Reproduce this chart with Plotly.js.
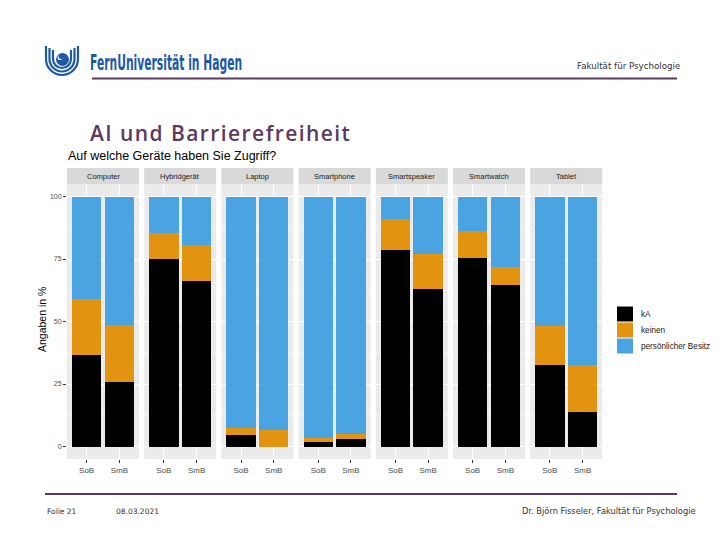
<!DOCTYPE html>
<html>
<head>
<meta charset="utf-8">
<script src="https://cdn.plot.ly/plotly-3.0.1.min.js"></script>
<style>html,body{margin:0;padding:0;background:#fff;}#chart{width:720px;height:540px;}</style>
</head>
<body>
<div id="chart"></div>
<script>
// ---- data ----
const devices = ["Computer", "Hybridgerät", "Laptop", "Smartphone", "Smartspeaker", "Smartwatch", "Tablet"];
const groups = ["SoB", "SmB"];
const seriesNames = ["kA", "keinen", "persönlicher Besitz"];
const seriesColors = ["#000000", "#E2930F", "#4BA4E2"];
// values in percent per device: [SoB, SmB]
const kA      = [[36.5, 26.0], [75.0, 66.4], [4.5, 0.0], [2.0, 3.2], [78.5, 63.0], [75.6, 64.8], [32.5, 13.7]];
const keinen  = [[22.5, 22.5], [10.3, 14.1], [3.1, 6.5], [1.5, 1.9], [12.5, 14.0], [10.5, 7.1], [15.8, 19.1]];
const besitz  = [[41.0, 51.5], [14.7, 19.5], [92.4, 93.5], [96.5, 94.9], [9.0, 23.0], [13.9, 28.1], [51.7, 67.2]];
const yTicks = [0, 25, 50, 75, 100];
const yTickText = ["0", "25", "50", "75", "100"];
const chartTitle = "Auf welche Geräte haben Sie Zugriff?";
const yTitle = "Angaben in %";
const slideTitle = "AI und Barrierefreiheit";
const logoText = "FernUniversität in Hagen";

// ---- helpers ----
const W = 720, H = 540;
const X = p => p / W;
const Y = p => 1 - p / H;

const panelLeft = 67, panelPitch = 77.2, panelW = 72;
const panelTop = 184, panelBottom = 459, stripTop = 168;

const seriesData = [kA, keinen, besitz];
const traces = [];
const layout = {
  width: W, height: H,
  margin: {l: 0, r: 0, t: 0, b: 0},
  paper_bgcolor: "#ffffff",
  plot_bgcolor: "#EBEBEB",
  showlegend: false,
  barmode: "stack",
  font: {family: "Liberation Sans, Arial, sans-serif", color: "#333"},
  shapes: [],
  annotations: []
};

layout.yaxis = {
  domain: [Y(panelBottom), Y(panelTop)],
  range: [-5, 105],
  tickvals: yTicks, ticktext: yTickText,
  ticks: "outside", ticklen: 3, tickcolor: "#333", tickwidth: 1,
  tickfont: {size: 7, color: "#4d4d4d"},
  showgrid: true, gridcolor: "#ffffff", gridwidth: 1,
  minor: {tickvals: [12.5, 37.5, 62.5, 87.5], showgrid: true, gridcolor: "#ffffff", gridwidth: 0.5, ticks: ""},
  zeroline: false, showline: false, anchor: "x", fixedrange: true
};

devices.forEach((d, i) => {
  const ax = i === 0 ? "x" : "x" + (i + 1);
  const axKey = i === 0 ? "xaxis" : "xaxis" + (i + 1);
  const left = panelLeft + i * panelPitch;
  layout[axKey] = {
    domain: [X(left), X(left + panelW)],
    type: "category",
    categoryorder: "array", categoryarray: groups,
    range: [-0.6, 1.6],
    ticks: "outside", ticklen: 3, tickcolor: "#333", tickwidth: 1,
    tickfont: {size: 8, color: "#4d4d4d"},
    showgrid: true, gridcolor: "#ffffff", gridwidth: 1,
    zeroline: false, showline: false, anchor: "y", fixedrange: true
  };
  seriesData.forEach((s, k) => {
    traces.push({
      type: "bar",
      x: groups,
      y: s[i],
      xaxis: ax, yaxis: "y",
      width: 0.9,
      name: seriesNames[k],
      marker: {color: seriesColors[k], line: {width: 0}},
      hoverinfo: "skip"
    });
  });
  // strip
  layout.shapes.push({type: "rect", xref: "paper", yref: "paper",
    x0: X(left), x1: X(left + panelW), y0: Y(panelTop), y1: Y(stripTop),
    fillcolor: "#D9D9D9", line: {width: 0}, layer: "below"});
  layout.annotations.push({xref: "paper", yref: "paper", x: X(left + panelW / 2), y: Y((panelTop + stripTop) / 2),
    text: d, showarrow: false, xanchor: "center", yanchor: "middle",
    font: {size: 7.5, color: "#1a1a1a"}});
});

// manual legend
seriesNames.forEach((n, k) => {
  const top = 306 + k * 16;
  layout.shapes.push({type: "rect", xref: "paper", yref: "paper",
    x0: X(617), x1: X(633), y0: Y(top + 15.5), y1: Y(top + 0.5),
    fillcolor: seriesColors[k], line: {width: 0}});
  layout.annotations.push({xref: "paper", yref: "paper", x: X(639), y: Y(top + 8),
    text: n, showarrow: false, xanchor: "left", yanchor: "middle",
    font: {size: 8.2, color: "#1a1a1a"}});
});

// chart title + y title
layout.annotations.push({xref: "paper", yref: "paper", x: X(66), y: Y(156),
  text: chartTitle, showarrow: false, xanchor: "left", yanchor: "middle",
  font: {size: 12.5, color: "#000000", family: "Liberation Sans, Arial, sans-serif"}});
layout.annotations.push({xref: "paper", yref: "paper", x: X(42), y: Y(320),
  text: yTitle, showarrow: false, textangle: -90, xanchor: "center", yanchor: "middle",
  font: {size: 10.5, color: "#000000"}});

// ---- slide decoration ----
const purple = "#5B3A5E";
layout.shapes.push({type: "line", xref: "paper", yref: "paper", x0: X(92), x1: X(677), y0: Y(78.5), y1: Y(78.5), line: {color: purple, width: 2}});
layout.shapes.push({type: "line", xref: "paper", yref: "paper", x0: X(45), x1: X(677), y0: Y(494), y1: Y(494), line: {color: purple, width: 2}});

// logo icon
const logoBlue = "#1D5AA6";
function uArc(cx, cy, r, top) {
  const k = 0.5523;
  const P = (x, y) => X(x).toFixed(5) + "," + Y(y).toFixed(5);
  return "M" + P(cx - r, top) + " L" + P(cx - r, cy) +
    " C" + P(cx - r, cy + k * r) + " " + P(cx - k * r, cy + r) + " " + P(cx, cy + r) +
    " C" + P(cx + k * r, cy + r) + " " + P(cx + r, cy + k * r) + " " + P(cx + r, cy) +
    " L" + P(cx + r, top);
}
[[9, 50], [12.5, 48], [16, 46]].forEach(([r, top]) => {
  layout.shapes.push({type: "path", xref: "paper", yref: "paper", path: uArc(62, 59, r, top),
    line: {color: logoBlue, width: 2.2}});
});
layout.shapes.push({type: "circle", xref: "paper", yref: "paper", x0: X(56), x1: X(69), y0: Y(66), y1: Y(53),
  fillcolor: logoBlue, line: {width: 0}});
layout.shapes.push({type: "circle", xref: "paper", yref: "paper", x0: X(57.5), x1: X(62.5), y0: Y(60), y1: Y(55),
  fillcolor: "#ffffff", line: {width: 0}});
layout.shapes.push({type: "circle", xref: "paper", yref: "paper", x0: X(58.5), x1: X(63.5), y0: Y(59), y1: Y(54),
  fillcolor: logoBlue, line: {width: 0}});

layout.annotations.push({xref: "paper", yref: "paper", x: X(88), y: Y(62),
  text: logoText, showarrow: false, xanchor: "left", yanchor: "middle",
  font: {size: 22, color: logoBlue, family: "DejaVu Sans Condensed, DejaVu Sans, sans-serif", weight: 600}});
layout.annotations.push({xref: "paper", yref: "paper", x: X(682), y: Y(66),
  text: "Fakultät für Psychologie", showarrow: false, xanchor: "right", yanchor: "middle",
  font: {size: 8.7, color: "#333333", family: "DejaVu Sans, sans-serif"}});
layout.annotations.push({xref: "paper", yref: "paper", x: X(89), y: Y(133),
  text: slideTitle, showarrow: false, xanchor: "left", yanchor: "middle",
  font: {size: 21, color: purple, family: "Open Sans, sans-serif", weight: 600}});
layout.annotations.push({xref: "paper", yref: "paper", x: X(45), y: Y(511),
  text: "Folie 21", showarrow: false, xanchor: "left", yanchor: "middle",
  font: {size: 7.5, color: "#333333", family: "DejaVu Sans, sans-serif"}});
layout.annotations.push({xref: "paper", yref: "paper", x: X(114), y: Y(511),
  text: "08.03.2021", showarrow: false, xanchor: "left", yanchor: "middle",
  font: {size: 7.5, color: "#333333", family: "DejaVu Sans, sans-serif"}});
layout.annotations.push({xref: "paper", yref: "paper", x: X(698), y: Y(511),
  text: "Dr. Björn Fisseler, Fakultät für Psychologie", showarrow: false, xanchor: "right", yanchor: "middle",
  font: {size: 8.3, color: "#333333", family: "DejaVu Sans, sans-serif"}});

Plotly.newPlot("chart", traces, layout, {staticPlot: true, displayModeBar: false}).then(() => {
  document.querySelectorAll("text.annotation-text").forEach(el => {
    const t = el.textContent;
    if (t === logoText) {
      const w = el.getBBox().width;
      el.style.transformBox = "fill-box";
      el.style.transformOrigin = "0% 50%";
      el.style.transform = "scaleX(" + (152 / w).toFixed(3) + ")";
    } else if (t === slideTitle) {
      const w = el.getBBox().width;
      const extra = (260 - w) / (t.length - 1);
      if (extra > 0) el.style.letterSpacing = extra.toFixed(2) + "px";
      const left = el.getBoundingClientRect().left;
      el.style.transform = "translateX(" + (90 - left).toFixed(1) + "px)";
    }
  });
});
</script>
</body>
</html>
